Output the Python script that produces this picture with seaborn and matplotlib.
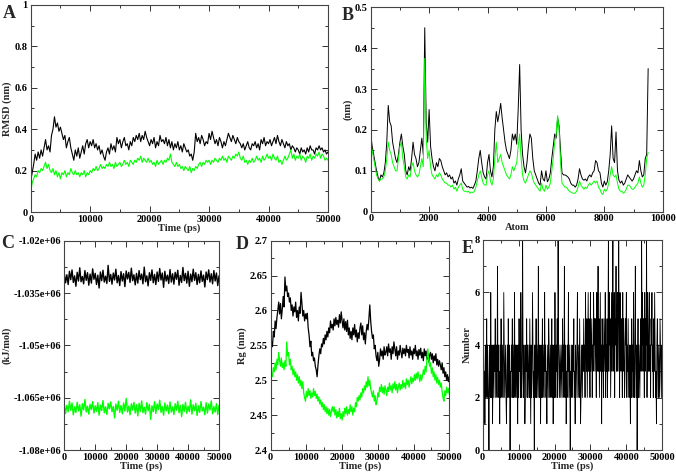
import numpy as np
import matplotlib
matplotlib.use("Agg")
import matplotlib.pyplot as plt
from matplotlib.ticker import MultipleLocator, AutoMinorLocator, FuncFormatter
import seaborn as sns

# ---- data ----
# A: backbone RMSD (nm), sampled every 250 ps
rmsd_black = [
    0.15, 0.19, 0.23, 0.28, 0.25, 0.29, 0.26, 0.30, 0.27, 0.31,
    0.35, 0.30, 0.32, 0.29, 0.37, 0.40, 0.46, 0.41, 0.43, 0.39,
    0.41, 0.38, 0.35, 0.37, 0.31, 0.34, 0.36, 0.31, 0.28, 0.25,
    0.30, 0.27, 0.31, 0.26, 0.29, 0.32, 0.28, 0.33, 0.35, 0.31,
    0.34, 0.32, 0.35, 0.31, 0.33, 0.30, 0.32, 0.28, 0.30, 0.27,
    0.25, 0.29, 0.31, 0.28, 0.33, 0.30, 0.32, 0.29, 0.36, 0.33,
    0.35, 0.31, 0.34, 0.36, 0.32, 0.33, 0.30, 0.34, 0.32, 0.36,
    0.34, 0.37, 0.35, 0.38, 0.34, 0.37, 0.35, 0.39, 0.36, 0.34,
    0.32, 0.35, 0.33, 0.36, 0.31, 0.34, 0.32, 0.37, 0.34, 0.35,
    0.33, 0.36, 0.32, 0.35, 0.31, 0.34, 0.30, 0.33, 0.31, 0.34,
    0.30, 0.32, 0.29, 0.33, 0.31, 0.29, 0.30, 0.27, 0.28, 0.25,
    0.29, 0.38, 0.34, 0.36, 0.33, 0.37, 0.35, 0.32, 0.34, 0.33,
    0.38, 0.35, 0.39, 0.36, 0.33, 0.35, 0.32, 0.36, 0.34, 0.31,
    0.34, 0.32, 0.35, 0.38, 0.36, 0.34, 0.37, 0.35, 0.33, 0.36,
    0.34, 0.33, 0.31, 0.33, 0.30, 0.32, 0.34, 0.31, 0.30, 0.33,
    0.32, 0.34, 0.31, 0.33, 0.30, 0.35, 0.33, 0.36, 0.32, 0.34,
    0.33, 0.35, 0.32, 0.34, 0.36, 0.33, 0.37, 0.34, 0.32, 0.35,
    0.33, 0.31, 0.34, 0.32, 0.33, 0.30, 0.32, 0.31, 0.29, 0.31,
    0.30, 0.28, 0.31, 0.29, 0.30, 0.28, 0.31, 0.29, 0.32, 0.30,
    0.30, 0.28, 0.31, 0.30, 0.32, 0.30, 0.31, 0.29, 0.30, 0.28,
    0.29,
]
rmsd_green = [
    0.10, 0.14, 0.16, 0.18, 0.17, 0.20, 0.19, 0.21, 0.20, 0.22,
    0.24, 0.21, 0.23, 0.20, 0.19, 0.21, 0.18, 0.20, 0.17, 0.19,
    0.16, 0.19, 0.18, 0.20, 0.17, 0.19, 0.18, 0.21, 0.19, 0.18,
    0.20, 0.18, 0.19, 0.17, 0.19, 0.18, 0.20, 0.17, 0.19, 0.18,
    0.20, 0.19, 0.21, 0.20, 0.22, 0.20, 0.21, 0.23, 0.21, 0.22,
    0.21, 0.23, 0.22, 0.24, 0.22, 0.23, 0.21, 0.24, 0.22, 0.23,
    0.24, 0.22, 0.23, 0.25, 0.23, 0.24, 0.22, 0.25, 0.24, 0.23,
    0.25, 0.24, 0.26, 0.25, 0.27, 0.24, 0.26, 0.25, 0.24, 0.26,
    0.24, 0.25, 0.23, 0.24, 0.22, 0.25, 0.23, 0.24, 0.25, 0.23,
    0.25, 0.24, 0.26, 0.25, 0.28, 0.24, 0.23, 0.22, 0.24, 0.22,
    0.23, 0.21, 0.22, 0.20, 0.22, 0.21, 0.20, 0.22, 0.19, 0.21,
    0.20, 0.22, 0.21, 0.23, 0.24, 0.22, 0.24, 0.23, 0.25, 0.24,
    0.25, 0.23, 0.25, 0.24, 0.26, 0.25, 0.24, 0.26, 0.25, 0.27,
    0.25, 0.26, 0.24, 0.27, 0.26, 0.25, 0.27, 0.26, 0.28, 0.27,
    0.29, 0.26, 0.25, 0.27, 0.24, 0.25, 0.23, 0.25, 0.24, 0.26,
    0.24, 0.25, 0.27, 0.25, 0.26, 0.24, 0.27, 0.25, 0.26, 0.28,
    0.26, 0.27, 0.25, 0.28, 0.26, 0.25, 0.27, 0.24, 0.25, 0.23,
    0.25, 0.27, 0.25, 0.26, 0.28, 0.30, 0.26, 0.28, 0.25, 0.27,
    0.26, 0.28, 0.25, 0.27, 0.26, 0.24, 0.27, 0.26, 0.28, 0.25,
    0.27, 0.26, 0.28, 0.27, 0.29, 0.26, 0.28, 0.27, 0.25, 0.26,
    0.25,
]

# B: RMSF per atom (nm), every 50 atoms
atom_step = 50
rmsf_black = [
    0.19, 0.16, 0.14, 0.12, 0.10, 0.085, 0.075, 0.09, 0.085, 0.095,
    0.12, 0.17, 0.26, 0.22, 0.21, 0.17, 0.15, 0.13, 0.12, 0.14,
    0.17, 0.19, 0.16, 0.14, 0.10, 0.09, 0.11, 0.10, 0.13, 0.17,
    0.14, 0.13, 0.11, 0.12, 0.15, 0.18, 0.14, 0.45, 0.22, 0.17,
    0.25, 0.16, 0.13, 0.11, 0.10, 0.12, 0.11, 0.13, 0.125, 0.11,
    0.10, 0.09, 0.095, 0.085, 0.09, 0.08, 0.085, 0.07, 0.075, 0.065,
    0.08, 0.09, 0.105, 0.075, 0.07, 0.065, 0.06, 0.062, 0.058, 0.06,
    0.057, 0.065, 0.075, 0.10, 0.13, 0.15, 0.12, 0.095, 0.085, 0.08,
    0.12, 0.14, 0.10, 0.085, 0.11, 0.20, 0.245, 0.22, 0.24, 0.265,
    0.23, 0.20, 0.17, 0.15, 0.14, 0.13, 0.15, 0.19, 0.175, 0.19,
    0.165, 0.25, 0.36, 0.20, 0.14, 0.11, 0.095, 0.12, 0.16, 0.19,
    0.18, 0.13, 0.10, 0.09, 0.08, 0.07, 0.065, 0.10, 0.08, 0.075,
    0.10, 0.073, 0.08, 0.095, 0.13, 0.16, 0.19, 0.18, 0.23, 0.21,
    0.15, 0.095, 0.09, 0.09, 0.088, 0.085, 0.08, 0.07, 0.065, 0.065,
    0.06, 0.065, 0.08, 0.105, 0.09, 0.08, 0.077, 0.08, 0.075, 0.085,
    0.09, 0.085, 0.095, 0.10, 0.125, 0.12, 0.10, 0.095, 0.07, 0.06,
    0.075, 0.065, 0.073, 0.10, 0.14, 0.21, 0.13, 0.12, 0.195, 0.10,
    0.077, 0.07, 0.075, 0.065, 0.07, 0.08, 0.09, 0.085, 0.08, 0.075,
    0.08, 0.09, 0.10, 0.095, 0.125, 0.10, 0.085, 0.09, 0.13, 0.14,
    0.35,
]
rmsf_green = [
    0.16, 0.15, 0.13, 0.11, 0.09, 0.08, 0.075, 0.08, 0.08, 0.085,
    0.10, 0.13, 0.17, 0.15, 0.14, 0.12, 0.11, 0.10, 0.10, 0.13,
    0.16, 0.17, 0.13, 0.11, 0.085, 0.08, 0.09, 0.085, 0.11, 0.12,
    0.10, 0.09, 0.085, 0.09, 0.11, 0.13, 0.11, 0.375, 0.18, 0.13,
    0.15, 0.11, 0.09, 0.085, 0.08, 0.09, 0.085, 0.095, 0.09, 0.08,
    0.075, 0.07, 0.07, 0.065, 0.065, 0.06, 0.065, 0.055, 0.06, 0.05,
    0.06, 0.065, 0.07, 0.055, 0.05, 0.05, 0.048, 0.05, 0.045, 0.048,
    0.047, 0.05, 0.06, 0.075, 0.09, 0.10, 0.085, 0.07, 0.065, 0.065,
    0.09, 0.10, 0.075, 0.065, 0.08, 0.13, 0.17, 0.12, 0.13, 0.14,
    0.12, 0.11, 0.10, 0.09, 0.085, 0.08, 0.09, 0.11, 0.10, 0.11,
    0.12, 0.16, 0.19, 0.13, 0.09, 0.075, 0.07, 0.08, 0.09, 0.10,
    0.095, 0.08, 0.07, 0.065, 0.06, 0.055, 0.05, 0.07, 0.055, 0.05,
    0.065, 0.055, 0.06, 0.07, 0.10, 0.13, 0.17, 0.19, 0.235, 0.20,
    0.12, 0.07, 0.065, 0.06, 0.06, 0.055, 0.05, 0.048, 0.046, 0.045,
    0.045, 0.05, 0.06, 0.075, 0.065, 0.06, 0.055, 0.06, 0.057, 0.065,
    0.07, 0.065, 0.07, 0.075, 0.07, 0.075, 0.06, 0.055, 0.045, 0.042,
    0.055, 0.05, 0.055, 0.07, 0.09, 0.11, 0.09, 0.085, 0.09, 0.07,
    0.055, 0.05, 0.05, 0.045, 0.048, 0.055, 0.065, 0.065, 0.06, 0.055,
    0.055, 0.06, 0.065, 0.07, 0.085, 0.07, 0.06, 0.065, 0.09, 0.13,
    0.145,
]

# C: potential energy (kJ/mol)
energy_black = [
    -1.0293e6, -1.0320e6, -1.0297e6, -1.0325e6, -1.0287e6, -1.0311e6, -1.0283e6, -1.0319e6, -1.0300e6, -1.0330e6,
    -1.0290e6, -1.0315e6, -1.0277e6, -1.0317e6, -1.0302e6, -1.0323e6, -1.0285e6, -1.0313e6, -1.0291e6, -1.0327e6,
    -1.0295e6, -1.0321e6, -1.0280e6, -1.0310e6, -1.0293e6, -1.0325e6, -1.0298e6, -1.0335e6, -1.0289e6, -1.0314e6,
    -1.0284e6, -1.0318e6, -1.0301e6, -1.0322e6, -1.0270e6, -1.0316e6, -1.0296e6, -1.0324e6, -1.0292e6, -1.0312e6,
    -1.0281e6, -1.0320e6, -1.0299e6, -1.0328e6, -1.0288e6, -1.0315e6, -1.0294e6, -1.0331e6, -1.0286e6, -1.0309e6,
    -1.0290e6, -1.0319e6, -1.0278e6, -1.0314e6, -1.0297e6, -1.0326e6, -1.0293e6, -1.0321e6, -1.0285e6, -1.0311e6,
    -1.0295e6, -1.0323e6, -1.0275e6, -1.0317e6, -1.0300e6, -1.0329e6, -1.0291e6, -1.0313e6, -1.0283e6, -1.0320e6,
    -1.0296e6, -1.0325e6, -1.0289e6, -1.0316e6, -1.0279e6, -1.0312e6, -1.0292e6, -1.0333e6, -1.0287e6, -1.0315e6,
    -1.0298e6, -1.0322e6, -1.0282e6, -1.0318e6, -1.0294e6, -1.0324e6, -1.0290e6, -1.0310e6, -1.0284e6, -1.0327e6,
    -1.0299e6, -1.0319e6, -1.0276e6, -1.0314e6, -1.0293e6, -1.0321e6, -1.0287e6, -1.0330e6, -1.0295e6, -1.0317e6,
    -1.0281e6, -1.0313e6, -1.0291e6, -1.0325e6, -1.0296e6, -1.0320e6, -1.0286e6, -1.0316e6, -1.0298e6, -1.0332e6,
    -1.0289e6, -1.0311e6, -1.0283e6, -1.0318e6, -1.0294e6, -1.0323e6, -1.0285e6, -1.0315e6, -1.0292e6, -1.0328e6,
    -1.0300e6,
]
energy_green = [
    -1.0668e6, -1.0695e6, -1.0672e6, -1.0690e6, -1.0660e6, -1.0686e6, -1.0665e6, -1.0699e6, -1.0676e6, -1.0692e6,
    -1.0663e6, -1.0688e6, -1.0670e6, -1.0703e6, -1.0667e6, -1.0685e6, -1.0655e6, -1.0691e6, -1.0674e6, -1.0697e6,
    -1.0669e6, -1.0684e6, -1.0661e6, -1.0694e6, -1.0673e6, -1.0689e6, -1.0664e6, -1.0700e6, -1.0671e6, -1.0687e6,
    -1.0658e6, -1.0693e6, -1.0676e6, -1.0698e6, -1.0666e6, -1.0682e6, -1.0662e6, -1.0690e6, -1.0675e6, -1.0708e6,
    -1.0668e6, -1.0686e6, -1.0660e6, -1.0692e6, -1.0672e6, -1.0696e6, -1.0665e6, -1.0688e6, -1.0652e6, -1.0691e6,
    -1.0674e6, -1.0699e6, -1.0667e6, -1.0685e6, -1.0663e6, -1.0694e6, -1.0670e6, -1.0702e6, -1.0666e6, -1.0689e6,
    -1.0659e6, -1.0693e6, -1.0677e6, -1.0697e6, -1.0664e6, -1.0687e6, -1.0669e6, -1.0712e6, -1.0673e6, -1.0690e6,
    -1.0661e6, -1.0695e6, -1.0668e6, -1.0684e6, -1.0657e6, -1.0692e6, -1.0675e6, -1.0700e6, -1.0665e6, -1.0688e6,
    -1.0671e6, -1.0696e6, -1.0662e6, -1.0691e6, -1.0676e6, -1.0698e6, -1.0667e6, -1.0686e6, -1.0660e6, -1.0693e6,
    -1.0672e6, -1.0704e6, -1.0669e6, -1.0689e6, -1.0663e6, -1.0695e6, -1.0674e6, -1.0690e6, -1.0656e6, -1.0697e6,
    -1.0670e6, -1.0687e6, -1.0666e6, -1.0701e6, -1.0673e6, -1.0692e6, -1.0661e6, -1.0688e6, -1.0677e6, -1.0699e6,
    -1.0664e6, -1.0694e6, -1.0668e6, -1.0685e6, -1.0659e6, -1.0696e6, -1.0675e6, -1.0691e6, -1.0667e6, -1.0698e6,
    -1.0672e6,
]

# D: radius of gyration (nm), every 250 ps
rg_black = [
    2.536, 2.555, 2.548, 2.570, 2.562, 2.585, 2.574, 2.590, 2.600, 2.612,
    2.595, 2.610, 2.588, 2.602, 2.620, 2.605, 2.648, 2.628, 2.635, 2.620,
    2.625, 2.612, 2.618, 2.600, 2.608, 2.592, 2.605, 2.598, 2.612, 2.590,
    2.600, 2.585, 2.605, 2.596, 2.626, 2.610, 2.592, 2.600, 2.585, 2.595,
    2.588, 2.596, 2.575, 2.565, 2.548, 2.556, 2.535, 2.540, 2.528, 2.532,
    2.520, 2.515, 2.505, 2.522, 2.535, 2.545, 2.538, 2.552, 2.548, 2.560,
    2.552, 2.565, 2.558, 2.570, 2.562, 2.575, 2.568, 2.585, 2.575, 2.580,
    2.572, 2.588, 2.578, 2.590, 2.580, 2.586, 2.576, 2.594, 2.582, 2.598,
    2.585, 2.575, 2.588, 2.572, 2.584, 2.570, 2.586, 2.565, 2.575, 2.560,
    2.570, 2.558, 2.575, 2.565, 2.580, 2.562, 2.572, 2.555, 2.568, 2.560,
    2.575, 2.582, 2.565, 2.578, 2.558, 2.568, 2.552, 2.570, 2.580, 2.572,
    2.588, 2.608, 2.585, 2.570, 2.560, 2.565, 2.545, 2.550, 2.535, 2.528,
    2.540, 2.520, 2.530, 2.545, 2.535, 2.542, 2.530, 2.548, 2.536, 2.540,
    2.548, 2.535, 2.552, 2.540, 2.545, 2.530, 2.548, 2.538, 2.555, 2.545,
    2.535, 2.548, 2.530, 2.542, 2.536, 2.550, 2.540, 2.532, 2.546, 2.538,
    2.545, 2.535, 2.550, 2.540, 2.544, 2.532, 2.548, 2.536, 2.542, 2.530,
    2.545, 2.538, 2.550, 2.535, 2.542, 2.530, 2.544, 2.536, 2.546, 2.532,
    2.540, 2.528, 2.545, 2.535, 2.542, 2.530, 2.538, 2.526, 2.536, 2.540,
    2.530, 2.538, 2.525, 2.535, 2.528, 2.538, 2.522, 2.530, 2.520, 2.528,
    2.522, 2.515, 2.525, 2.510, 2.518, 2.505, 2.512, 2.500, 2.508, 2.498,
    2.505,
]
rg_green = [
    2.500, 2.510, 2.505, 2.518, 2.512, 2.525, 2.515, 2.530, 2.522, 2.540,
    2.528, 2.520, 2.532, 2.518, 2.525, 2.515, 2.528, 2.520, 2.555, 2.535,
    2.540, 2.522, 2.530, 2.515, 2.520, 2.508, 2.516, 2.505, 2.512, 2.500,
    2.508, 2.496, 2.505, 2.492, 2.500, 2.488, 2.498, 2.482, 2.475, 2.470,
    2.484, 2.476, 2.488, 2.478, 2.485, 2.474, 2.482, 2.476, 2.488, 2.478,
    2.484, 2.474, 2.480, 2.470, 2.476, 2.466, 2.472, 2.462, 2.468, 2.458,
    2.465, 2.455, 2.462, 2.452, 2.460, 2.450, 2.458, 2.448, 2.456, 2.462,
    2.455, 2.462, 2.450, 2.458, 2.446, 2.455, 2.448, 2.460, 2.445, 2.452,
    2.443, 2.455, 2.448, 2.460, 2.452, 2.462, 2.450, 2.458, 2.452, 2.465,
    2.455, 2.462, 2.450, 2.460, 2.455, 2.468, 2.462, 2.475, 2.470, 2.478,
    2.472, 2.482, 2.476, 2.488, 2.482, 2.492, 2.486, 2.498, 2.490, 2.505,
    2.492, 2.500, 2.488, 2.482, 2.476, 2.485, 2.470, 2.478, 2.465, 2.470,
    2.482, 2.476, 2.490, 2.484, 2.494, 2.482, 2.490, 2.480, 2.492, 2.486,
    2.478, 2.490, 2.484, 2.496, 2.486, 2.492, 2.482, 2.495, 2.488, 2.498,
    2.486, 2.494, 2.482, 2.490, 2.496, 2.486, 2.494, 2.488, 2.500, 2.490,
    2.496, 2.488, 2.502, 2.494, 2.500, 2.490, 2.498, 2.505, 2.495, 2.503,
    2.498, 2.508, 2.500, 2.510, 2.502, 2.512, 2.505, 2.498, 2.508, 2.500,
    2.506, 2.515, 2.508, 2.520, 2.512, 2.530, 2.545, 2.528, 2.520, 2.525,
    2.510, 2.518, 2.505, 2.512, 2.500, 2.508, 2.496, 2.504, 2.494, 2.500,
    2.490, 2.496, 2.484, 2.475, 2.470, 2.485, 2.478, 2.490, 2.482, 2.488,
    2.480,
]

# E: number of hydrogen bonds, every 125 ps
hbonds = [
    3, 2, 4, 2, 3, 1, 4, 2, 3, 5, 2, 4, 3, 2, 0, 3, 4, 2, 6, 3, 2, 4, 1, 3, 4,
    2, 4, 3, 5, 2, 3, 4, 2, 7, 3, 4, 2, 3, 1, 4, 2, 5, 3, 2, 4, 3, 2, 6, 4, 2,
    3, 4, 2, 1, 3, 4, 2, 5, 3, 2, 4, 0, 3, 2, 4, 3, 5, 2, 4, 2, 3, 6, 2, 4, 3,
    2, 4, 3, 1, 4, 2, 5, 3, 4, 2, 6, 3, 2, 4, 8, 3, 2, 4, 3, 1, 2, 4, 3, 5, 2,
    4, 2, 3, 4, 2, 5, 3, 1, 4, 2, 3, 6, 4, 2, 3, 0, 4, 2, 3, 5, 2, 4, 3, 2, 7,
    3, 2, 4, 3, 1, 4, 2, 3, 5, 2, 4, 3, 2, 6, 3, 4, 2, 3, 1, 4, 3, 2, 5, 4, 2,
    3, 4, 2, 3, 5, 2, 4, 1, 3, 4, 2, 6, 3, 2, 4, 3, 5, 2, 8, 4, 3, 2, 4, 3, 2,
    4, 3, 2, 5, 3, 4, 2, 7, 3, 2, 4, 1, 3, 2, 4, 3, 6, 2, 3, 4, 0, 3, 2, 4, 3,
    2, 4, 3, 5, 2, 3, 1, 4, 2, 3, 4, 6, 2, 3, 4, 2, 5, 3, 1, 2, 4, 3, 2, 4, 3,
    5, 3, 4, 2, 6, 4, 3, 5, 2, 4, 6, 3, 5, 4, 2, 6, 3, 4, 5, 2, 4, 3, 6, 4, 5,
    3, 5, 4, 2, 6, 3, 4, 7, 3, 5, 2, 4, 6, 3, 4, 1, 5, 3, 4, 2, 5, 4, 3, 6, 2,
    4, 3, 5, 2, 4, 8, 3, 6, 4, 5, 2, 4, 6, 3, 5, 8, 4, 3, 6, 2, 5, 4, 7, 3, 4,
    6, 3, 5, 8, 4, 2, 6, 4, 3, 5, 4, 2, 6, 3, 5, 4, 2, 3, 5, 4, 6, 2, 4, 3, 5,
    3, 2, 4, 3, 1, 4, 2, 5, 3, 4, 2, 6, 3, 2, 4, 7, 3, 2, 4, 0, 3, 5, 2, 4, 3,
    2, 4, 5, 3, 8, 4, 6, 3, 5, 4, 2, 6, 3, 5, 4, 8, 2, 6, 4, 3, 5, 6, 3, 4, 2,
    5, 4, 6, 3, 4, 2, 5, 3, 6, 4, 2, 3, 1, 4, 5, 3, 2, 4, 3, 2, 5, 4, 3, 2, 4,
    3,
]

t_end = 50000
green = "#00ff00"

sns.set_style("ticks")
plt.rcParams["font.family"] = ["Liberation Serif", "DejaVu Serif"]
plt.rcParams["font.weight"] = "bold"
plt.rcParams["axes.labelweight"] = "bold"
plt.rcParams["font.size"] = 7.5

fig = plt.figure(figsize=(6.76, 4.74), dpi=100)

axA = fig.add_axes([0.0454, 0.5527, 0.4398, 0.4368])
axB = fig.add_axes([0.5484, 0.5534, 0.4320, 0.4312])
axC = fig.add_axes([0.0951, 0.0506, 0.2289, 0.4410])
axD = fig.add_axes([0.4004, 0.0506, 0.2642, 0.4416])
axE = fig.add_axes([0.7140, 0.0506, 0.2657, 0.4431])

fmt = FuncFormatter(lambda v, p: f"{v:g}")


def style(ax, xlim, xstep, ylim, ystep, xlabel, ylabel):
    ax.set_xlim(*xlim)
    ax.set_ylim(*ylim)
    ax.xaxis.set_major_locator(MultipleLocator(xstep))
    ax.yaxis.set_major_locator(MultipleLocator(ystep))
    ax.xaxis.set_minor_locator(AutoMinorLocator(2))
    ax.yaxis.set_minor_locator(AutoMinorLocator(2))
    ax.xaxis.set_major_formatter(fmt)
    ax.yaxis.set_major_formatter(fmt)
    ax.tick_params(which="both", direction="in", top=True, right=True,
                   width=0.7, colors="#333333", labelcolor="black",
                   labelsize=7.5, pad=2)
    ax.tick_params(which="major", length=4)
    ax.tick_params(which="minor", length=2)
    for s in ax.spines.values():
        s.set_linewidth(0.8)
        s.set_color("#444444")
    ax.set_xlabel(xlabel, fontsize=7.5, labelpad=0)
    ax.set_ylabel(ylabel, fontsize=7.5, labelpad=2)


def draw(ax, x, y, color, lw=0.8):
    sns.lineplot(x=x, y=y, ax=ax, color=color, lw=lw,
                 estimator=None, sort=False, legend=False)


# A
draw(axA, np.linspace(0, t_end, len(rmsd_black)), rmsd_black, "black")
draw(axA, np.linspace(0, t_end, len(rmsd_green)), rmsd_green, green)
style(axA, (0, 50000), 10000, (0, 1), 0.2, "Time (ps)", "RMSD (nm)")

# B
draw(axB, np.arange(len(rmsf_black)) * atom_step, rmsf_black, "black", 0.7)
draw(axB, np.arange(len(rmsf_green)) * atom_step, rmsf_green, green, 0.7)
style(axB, (0, 10000), 2000, (0, 0.5), 0.1, "Atom", "(nm)")

# C
draw(axC, np.linspace(0, t_end, len(energy_black)), energy_black, "black", 1.0)
draw(axC, np.linspace(0, t_end, len(energy_green)), energy_green, green, 1.0)
style(axC, (0, 50000), 10000, (-1.08e6, -1.02e6), 15000, "Time (ps)", "(kJ/mol)")

# D
draw(axD, np.linspace(0, t_end, len(rg_black)), rg_black, "black", 0.9)
draw(axD, np.linspace(0, t_end, len(rg_green)), rg_green, green, 0.9)
style(axD, (0, 50000), 10000, (2.4, 2.7), 0.05, "Time (ps)", "Rg (nm)")

# E
draw(axE, np.linspace(0, t_end, len(hbonds)), hbonds, "black", 0.6)
style(axE, (0, 50000), 10000, (0, 8), 2, "Time (ps)", "Number")

# panel letters
for letter, (x, y) in zip("ABCDE", [(0.004, 0.962), (0.505, 0.957), (0.002, 0.477),
                                     (0.349, 0.475), (0.683, 0.466)]):
    fig.text(x, y, letter, fontsize=13, fontweight="bold")

fig.savefig("out.png", dpi=100)
